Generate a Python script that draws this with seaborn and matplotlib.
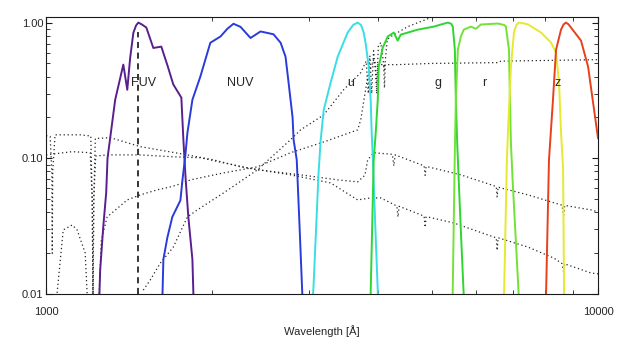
import seaborn as sns
import pandas as pd
import matplotlib.pyplot as plt
from matplotlib.ticker import LogLocator, NullFormatter

# filter transmission curves (normalised), wavelength in Angstrom
fuv_wl = [1248, 1253, 1269, 1285, 1292, 1334, 1380, 1403, 1420, 1439, 1455, 1469, 1490, 1519,
          1564, 1617, 1660, 1700, 1758, 1773, 1790, 1810, 1841, 1850]
fuv_tr = [0.009, 0.015, 0.031, 0.056, 0.10, 0.27, 0.49, 0.32, 0.55, 0.84, 0.95, 1.0, 0.97, 0.92,
          0.65, 0.665, 0.48, 0.35, 0.28, 0.137, 0.07, 0.037, 0.018, 0.009]

nuv_wl = [1624, 1631, 1658, 1693, 1751, 1766, 1788, 1803, 1841, 1903, 1984, 2070, 2130, 2185,
          2250, 2346, 2446, 2582, 2660, 2715, 2750, 2796, 2808, 2845, 2880, 2915]
nuv_tr = [0.009, 0.018, 0.026, 0.037, 0.049, 0.069, 0.106, 0.154, 0.27, 0.40, 0.71, 0.79, 0.90,
          0.98, 0.93, 0.77, 0.86, 0.82, 0.71, 0.56, 0.36, 0.20, 0.137, 0.0975, 0.03, 0.009]

u_wl = [3040, 3051, 3116, 3144, 3184, 3277, 3375, 3518, 3600, 3668, 3720, 3760, 3793, 3841,
        3873, 3889, 3910, 3950, 3995]
u_tr = [0.009, 0.0113, 0.078, 0.137, 0.228, 0.361, 0.561, 0.844, 0.96, 1.0, 0.96, 0.85, 0.70,
        0.473, 0.27, 0.154, 0.095, 0.03, 0.009]

g_wl = [3870, 3922, 3955, 3989, 4005, 4073, 4159, 4265, 4335, 4390, 4713, 5039, 5250, 5343,
        5420, 5456, 5502, 5525, 5560, 5640, 5715]
g_tr = [0.009, 0.0975, 0.154, 0.27, 0.473, 0.654, 0.79, 0.844, 0.736, 0.815, 0.887, 0.934,
        0.98, 1.0, 0.98, 0.93, 0.63, 0.27, 0.12, 0.03, 0.009]

r_wl = [5450, 5502, 5525, 5571, 5641, 5711, 5882, 6006, 6134, 6586, 6760, 6808, 6895, 6924,
        6952, 7000, 7190]
r_tr = [0.009, 0.115, 0.27, 0.63, 0.788, 0.887, 0.934, 0.90, 0.968, 0.984, 0.96, 0.934, 0.63,
        0.27, 0.13, 0.07, 0.009]

i_wl = [6752, 6836, 6865, 6952, 7040, 7110, 7189, 7300, 7464, 7882, 8218, 8391, 8497, 8568,
        8641, 8680]
i_tr = [0.009, 0.0975, 0.154, 0.473, 0.844, 0.96, 1.0, 0.99, 0.97, 0.844, 0.712, 0.60, 0.361,
        0.154, 0.085, 0.009]

z_wl = [8045, 8148, 8285, 8391, 8568, 8660, 8749, 8840, 8933, 9313, 9592, 9834, 10000]
z_tr = [0.009, 0.0975, 0.27, 0.63, 0.887, 0.97, 1.0, 0.97, 0.918, 0.736, 0.473, 0.228, 0.14]

band_names = ["FUV", "NUV", "u", "g", "r", "i", "z"]
band_colors = ["#5a1f8f", "#2a3bd9", "#38dde6", "#2fd62f", "#72e236", "#e8e82e", "#e8401c"]
band_label_wl = [1500, 2250, 3563, 5125, 6210, 8461]
band_label_text = ["FUV", "NUV", "u", "g", "r", "z"]
band_label_y = 0.36

# template spectra (arbitrary scaling)
a_wl = [1000, 1017, 1024, 1026, 1028, 1038, 1153, 1205, 1212, 1216, 1220, 1228, 1307, 1481,
        1803, 2010, 2250, 2772, 3277, 3668, 3873, 4039, 4320, 4340, 4360, 4390, 4840, 4861,
        4880, 4916, 5479, 6477, 6540, 6563, 6590, 7464, 8320, 8600, 8662, 8700, 9712, 10000]
a_fl = [0.147, 0.145, 0.08, 0.02, 0.08, 0.149, 0.149, 0.146, 0.05, 0.009, 0.05, 0.140, 0.142,
        0.122, 0.106, 0.0975, 0.0866, 0.0756, 0.0659, 0.0494, 0.0511, 0.0511, 0.0445, 0.037,
        0.0443, 0.0439, 0.0375, 0.031, 0.037, 0.037, 0.0334, 0.0263, 0.026, 0.021, 0.026,
        0.0222, 0.0184, 0.0168, 0.0145, 0.0167, 0.0143, 0.0141]

b_wl = [1000, 1115, 1202, 1212, 1216, 1220, 1230, 1290, 1481, 1700, 1903, 2096, 2415, 2891,
        3375, 3668, 3780, 3825, 3922, 4240, 4265, 4290, 4840, 4861, 4880, 4916, 5641, 6540,
        6563, 6590, 6600, 7464, 8568, 8600, 8662, 8700, 9712, 10000]
b_fl = [0.106, 0.112, 0.11, 0.05, 0.009, 0.05, 0.104, 0.106, 0.106, 0.1026, 0.101, 0.0927,
        0.0823, 0.0756, 0.0694, 0.0671, 0.075, 0.0975, 0.110, 0.107, 0.088, 0.106, 0.088,
        0.075, 0.087, 0.0866, 0.0756, 0.062, 0.052, 0.0615, 0.0612, 0.0538, 0.0454, 0.0452,
        0.038, 0.045, 0.0417, 0.0403]

c_wl = [1047, 1074, 1115, 1138, 1177, 1190, 1245, 1259, 1290, 1403, 1481, 1590, 1679, 1773,
        1826, 2096, 2415, 2772, 3184, 3668, 3715, 3760, 3825, 3922, 3950, 3970, 3990, 4089,
        4102, 4115, 4335, 4977, 6586, 6668, 10000]
c_fl = [0.0102, 0.0297, 0.0323, 0.0297, 0.0201, 0.008, 0.008, 0.025, 0.037, 0.0494, 0.0538,
        0.0586, 0.0616, 0.0659, 0.0694, 0.0781, 0.0866, 0.110, 0.132, 0.162, 0.192, 0.26,
        0.399, 0.533, 0.50, 0.30, 0.49, 0.49, 0.33, 0.49, 0.49, 0.50, 0.507, 0.52, 0.533]

d_wl = [1500, 1544, 1610, 1700, 1803, 1879, 2096, 2415, 2772, 2891, 3184, 3459, 3715, 3800,
        3835, 3860, 3889, 3920, 3970, 4000, 4039, 4102, 4150, 4211, 4521, 4977, 5298]
d_fl = [0.0107, 0.0127, 0.0169, 0.0222, 0.037, 0.0417, 0.0556, 0.0823, 0.137, 0.162, 0.209,
        0.32, 0.427, 0.52, 0.30, 0.57, 0.30, 0.62, 0.35, 0.68, 0.712, 0.45, 0.75, 0.788,
        0.934, 1.088, 1.247]

fuv_marker = 1470
fuv_marker_top = 0.85

sns.set_style("ticks")
plt.rcParams['font.family'] = ['Liberation Sans', 'DejaVu Sans']

filters = pd.concat([
    pd.DataFrame({"wavelength": w, "throughput": t, "band": b})
    for b, w, t in zip(band_names,
                       [fuv_wl, nuv_wl, u_wl, g_wl, r_wl, i_wl, z_wl],
                       [fuv_tr, nuv_tr, u_tr, g_tr, r_tr, i_tr, z_tr])
])

fig = plt.figure(figsize=(6.23, 3.46), dpi=100)
ax = fig.add_axes([0.074, 0.150, 0.886, 0.801])
ax.set_xscale("log")
ax.set_yscale("log")

for wl, fl in [(a_wl, a_fl), (b_wl, b_fl), (c_wl, c_fl), (d_wl, d_fl)]:
    sns.lineplot(x=wl, y=fl, ax=ax, color="0.15", lw=0.9, linestyle=(0, (1, 2.2)),
                 estimator=None, sort=False)

sns.lineplot(data=filters, x="wavelength", y="throughput", hue="band",
             palette=dict(zip(band_names, band_colors)), estimator=None, sort=False,
             legend=False, lw=1.4, ax=ax)

ax.vlines(fuv_marker, 0.01, fuv_marker_top, colors="black", linestyles=(0, (4, 3)), lw=1.1)

for wl, txt in zip(band_label_wl, band_label_text):
    ax.text(wl, band_label_y, txt, ha="center", va="center", fontsize=9)

ax.set_xlim(1000, 10000)
ax.set_ylim(0.01, 1.1)
ax.set_xticks([1000, 10000], labels=["1000", "10000"])
ax.set_yticks([0.01, 0.1, 1.0], labels=["0.01", "0.10", "1.00"])
ax.xaxis.set_minor_locator(LogLocator(base=10, subs=range(2, 10)))
ax.yaxis.set_minor_locator(LogLocator(base=10, subs=range(2, 10)))
ax.xaxis.set_minor_formatter(NullFormatter())
ax.yaxis.set_minor_formatter(NullFormatter())
ax.tick_params(which="both", direction="in", top=True, right=True, labelsize=8, color="0.1")
ax.tick_params(which="major", length=4.5, width=0.8)
ax.tick_params(which="minor", length=3, width=0.6)
ax.tick_params(axis="x", pad=9)
ax.tick_params(axis="y", pad=2)
for s in ax.spines.values():
    s.set_linewidth(0.8)
    s.set_color("0.1")

ax.set_xlabel("Wavelength [Å]", fontsize=8, labelpad=6)
ax.set_ylabel("")

fig.savefig("out.png", dpi=100)
